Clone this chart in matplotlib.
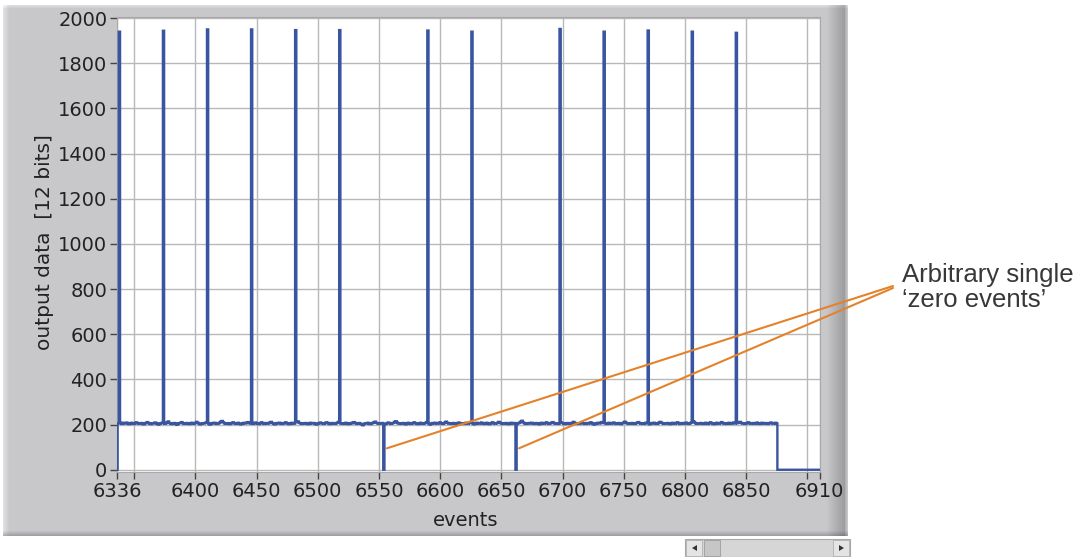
import numpy as np
import matplotlib.pyplot as plt
from matplotlib.patches import Rectangle, Polygon

W_PX, H_PX = 1078, 557

# recorded window
first_event = 6336
last_event = 6910

# ADC output per event (12 bit), pedestal readings up to the end of acquisition
baseline = [
    205, 206, 204, 207, 203, 208, 206, 205, 209, 204, 202, 206, 208, 205, 203, 207, 210, 206, 204, 205,
    207, 203, 201, 205, 208, 211, 206, 204, 202, 206, 205, 209, 207, 203, 200, 204, 206, 208, 205, 203,
    206, 210, 214, 207, 204, 202, 205, 207, 203, 199, 204, 206, 208, 211, 206, 203, 205, 207, 204, 202,
    205, 208, 206, 203, 207, 212, 208, 204, 201, 203, 206, 205, 207, 209, 206, 204, 200, 203, 207, 205,
    208, 206, 203, 205, 209, 213, 216, 210, 205, 203, 206, 204, 202, 205, 207, 210, 206, 203, 205, 208,
    204, 201, 203, 206, 208, 205, 207, 211, 208, 204, 206, 203, 205, 209, 207, 204, 202, 206, 210, 207,
    203, 205, 207, 204, 206, 209, 212, 207, 203, 201, 204, 207, 205, 208, 206, 203, 205, 207, 210, 206,
    204, 202, 205, 208, 206, 204, 207, 211, 214, 208, 205, 203, 206, 204, 207, 205, 202, 204, 208, 206,
    205, 207, 203, 200, 204, 206, 209, 207, 205, 203, 206, 210, 208, 204, 202, 205, 207, 206, 203, 205,
    208, 212, 207, 204, 206, 203, 205, 208, 206, 202, 204, 207, 205, 209, 211, 206, 203, 205, 207, 204,
    201, 197, 203, 206, 205, 208, 204, 202, 205, 207, 210, 213, 208, 205, 203, 206, 204, 207, 205, 202,
    204, 207, 209, 206, 203, 205, 208, 212, 215, 209, 204, 206, 203, 205, 207, 204, 201, 205, 208, 206,
    203, 205, 207, 210, 206, 204, 202, 205, 208, 206, 203, 205, 207, 211, 206, 203, 200, 204, 207, 205,
    208, 206, 204, 207, 210, 206, 203, 205, 209, 213, 208, 204, 206, 203, 205, 207, 204, 202, 206, 209,
    207, 204, 206, 203, 205, 208, 206, 204, 207, 211, 207, 203, 201, 205, 208, 206, 204, 207, 209, 205,
    203, 206, 208, 205, 202, 204, 207, 210, 206, 204, 205, 208, 212, 209, 205, 203, 206, 204, 207, 205,
    202, 205, 208, 206, 204, 207, 205, 203, 206, 209, 213, 217, 210, 205, 203, 206, 204, 207, 205, 208,
    206, 203, 205, 207, 204, 201, 205, 208, 206, 204, 207, 210, 206, 203, 205, 208, 211, 207, 204, 206,
    205, 203, 206, 209, 207, 204, 202, 205, 207, 206, 203, 205, 208, 212, 208, 205, 203, 206, 204, 207,
    209, 206, 203, 205, 207, 204, 206, 210, 207, 203, 200, 204, 206, 208, 205, 207, 211, 207, 204, 206,
    203, 205, 208, 206, 204, 207, 209, 206, 203, 205, 207, 204, 202, 206, 209, 213, 208, 205, 203, 206,
    204, 207, 205, 203, 206, 208, 211, 207, 204, 206, 203, 205, 208, 206, 204, 201, 204, 207, 205, 208,
    206, 203, 205, 209, 212, 208, 205, 203, 206, 204, 207, 205, 202, 205, 208, 206, 204, 207, 210, 206,
    203, 205, 207, 204, 206, 209, 206, 203, 205, 208, 212, 215, 209, 205, 203, 206, 204, 207, 205, 203,
    206, 208, 205, 203, 207, 210, 206, 204, 202, 205, 208, 206, 204, 207, 211, 207, 204, 206, 203, 205,
    208, 206, 204, 207, 209, 205, 203, 206, 208, 212, 208, 204, 206, 203, 205, 207, 210, 206, 204, 205,
    207, 204, 206, 209, 206, 203, 205, 208, 206, 204, 207, 205, 203, 206, 209, 207, 204, 206, 208, 205,
]
start_value = 0

spike_events = [6338, 6374, 6410, 6446, 6482, 6518, 6590, 6626, 6698, 6734, 6770, 6806, 6842]
spike_heights = [1940, 1944, 1950, 1950, 1947, 1947, 1945, 1940, 1952, 1940, 1945, 1940, 1935]

# single events that read out as zero
zero_events = [6554, 6662]

x_ticks = [6336, 6350, 6400, 6450, 6500, 6550, 6600, 6650, 6700, 6750, 6800, 6850, 6900, 6910]
x_tick_labels = ['6336', '', '6400', '6450', '6500', '6550', '6600', '6650',
                 '6700', '6750', '6800', '6850', '', '6910']
y_ticks = [0, 200, 400, 600, 800, 1000, 1200, 1400, 1600, 1800, 2000]

events = np.arange(first_event, last_event + 1)
output = np.zeros(len(events))  # everything after the baseline block stays at 0
output[:len(baseline)] = baseline
output[np.array(spike_events) - first_event] = spike_heights
output[np.array(zero_events) - first_event] = 0
output[0] = start_value

TRACE = '#3a55a0'
ORANGE = '#e4822a'


def fx(px):
    return px / W_PX


def fy(py):
    return 1 - py / H_PX


fig = plt.figure(figsize=(W_PX / 100, H_PX / 100), dpi=100, facecolor='white')

# --- panel background (pixel coordinates) ---
bg = fig.add_axes([0, 0, 1, 1], zorder=0)
bg.set_xlim(0, W_PX)
bg.set_ylim(H_PX, 0)
bg.axis('off')

px_l, px_r, px_t, px_b = 3, 848, 5, 536
cols = np.full(px_r - px_l, 0.785)
cols[:6] = np.linspace(0.88, 0.80, 6)
edge = np.arange(px_r - px_l) - (826 - px_l)
strip = edge >= 0
cols[strip] = 0.785 - 0.17 * np.clip(edge[strip] / 18.0, 0, 1)
cols[-3:] = [0.70, 0.74, 0.78]
rows = np.ones(px_b - px_t)
rows[:3] = [1.10, 1.07, 1.04]
rows[-5:] = [0.96, 0.92, 0.88, 0.84, 0.80]
shade = np.clip(np.outer(rows, cols), 0, 1)
rgb = np.dstack([shade, shade, np.clip(shade * 1.015, 0, 1)])
bg.imshow(rgb, extent=(px_l, px_r, px_b, px_t), aspect='auto', interpolation='bilinear')

# scrollbar under the panel
bg.add_patch(Rectangle((685, 539), 165, 18, facecolor='#d6d6d6', edgecolor='#a8a8a8', lw=0.8))
bg.add_patch(Rectangle((686, 540), 16, 16, facecolor='#e4e4e4', edgecolor='#b0b0b0', lw=0.6))
bg.add_patch(Rectangle((833, 540), 16, 16, facecolor='#e4e4e4', edgecolor='#b0b0b0', lw=0.6))
bg.add_patch(Rectangle((704, 540), 16, 16, facecolor='#c6c6c6', edgecolor='#9c9c9c', lw=0.6))
bg.add_patch(Polygon([(692, 548), (697, 545), (697, 551)], closed=True, facecolor='#333333', lw=0))
bg.add_patch(Polygon([(844, 548), (839, 545), (839, 551)], closed=True, facecolor='#333333', lw=0))

# --- plot area ---
ax = fig.add_axes([fx(117), fy(472), (819.6 - 117) / W_PX, (472 - 17) / H_PX], zorder=1)
ax.set_facecolor('white')
ax.plot(events, output, color=TRACE, lw=1.7, drawstyle='steps-mid',
        solid_joinstyle='miter', zorder=3)

ax.set_xlim(first_event, last_event)
ax.set_ylim(-10, 2005)
ax.set_xticks(x_ticks)
ax.set_xticklabels(x_tick_labels)
ax.set_yticks(y_ticks)
ax.grid(True, color='#b8b8b8', lw=1.0)
ax.set_axisbelow(True)
ax.tick_params(direction='out', length=5, width=1, color='#444444',
               labelsize=14, labelcolor='#222222', pad=2)
for sp in ax.spines.values():
    sp.set_color('#a8a8a8')
    sp.set_linewidth(0.8)

fig.text(fx(466), fy(520), 'events', fontsize=14, color='#222222', ha='center', va='center')
fig.text(fx(45), fy(242), 'output data  [12 bits]', fontsize=14.5, color='#222222',
         rotation=90, ha='center', va='center')

# --- callout for the zero events ---
callout_end = [(893, 286), (893, 288)]
for ev, (ex, ey) in zip(zero_events, callout_end):
    ax.annotate('', xy=(ev + 2.5, 95), xycoords='data',
                xytext=(fx(ex), fy(ey)), textcoords='figure fraction',
                arrowprops=dict(arrowstyle='-', color=ORANGE, lw=1.5, shrinkA=0, shrinkB=0),
                annotation_clip=False, zorder=5)

fig.text(fx(902), fy(282), 'Arbitrary single', fontsize=18.5, family='Liberation Sans',
         color='#383838', ha='left', va='baseline')
fig.text(fx(902), fy(307), '\u2018zero events\u2019', fontsize=18.5, family='Liberation Sans',
         color='#383838', ha='left', va='baseline')

fig.savefig('out.png', dpi=100, facecolor='white')
